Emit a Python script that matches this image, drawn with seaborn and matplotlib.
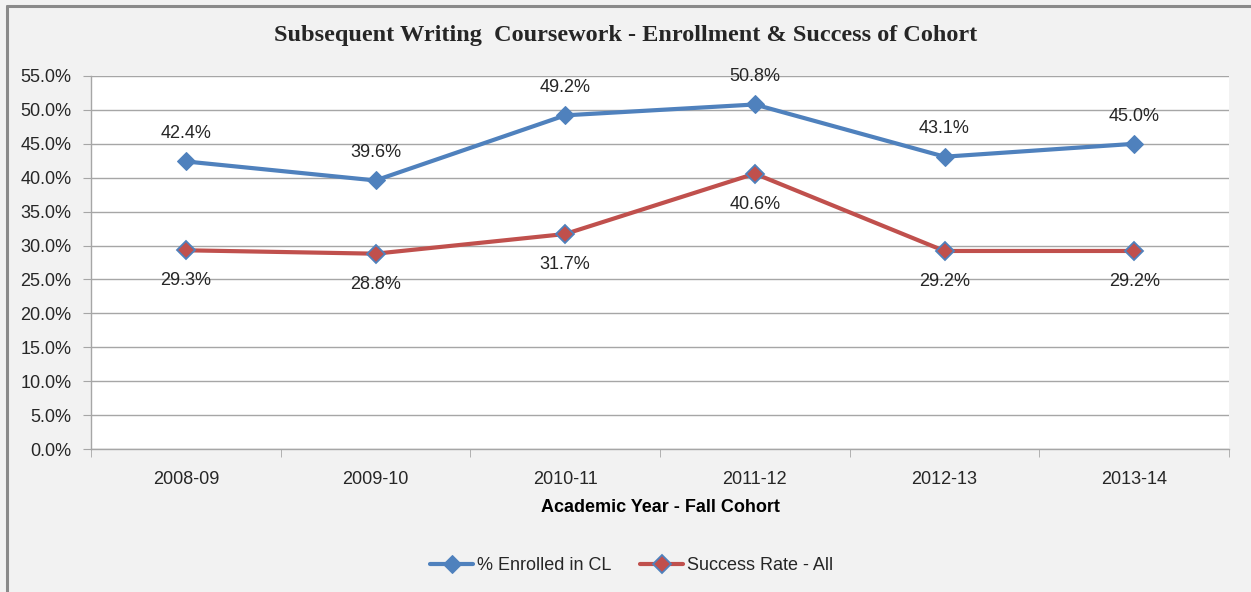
import matplotlib
matplotlib.use("Agg")
import matplotlib.pyplot as plt
import seaborn as sns
import pandas as pd
from matplotlib.ticker import FuncFormatter, FixedLocator
from matplotlib.lines import Line2D

years = ["2008-09", "2009-10", "2010-11", "2011-12", "2012-13", "2013-14"]
enrolled = [42.4, 39.6, 49.2, 50.8, 43.1, 45.0]
success = [29.3, 28.8, 31.7, 40.6, 29.2, 29.2]

blue = "#4f81bd"
red = "#c0504d"
bg = "#f2f2f2"
grid = "#a6a6a6"

sns.set_style("white")
plt.rcParams['font.family'] = ['Liberation Sans', 'DejaVu Sans']

fig = plt.figure(figsize=(12.51, 5.92), dpi=100, facecolor=bg)
ax = fig.add_axes([91 / 1251, 1 - 449 / 592, (1229 - 91) / 1251, (449 - 76) / 592])
ax.set_facecolor("white")

df = pd.DataFrame({"year": years, "enrolled": enrolled, "success": success})
x = list(range(len(years)))
df["x"] = x

sns.lineplot(data=df, x="x", y="enrolled", ax=ax, color=blue, linewidth=3,
             marker="D", markersize=9, markerfacecolor=blue, markeredgecolor=blue,
             label="% Enrolled in CL")
sns.lineplot(data=df, x="x", y="success", ax=ax, color=red, linewidth=3,
             marker="D", markersize=9, markerfacecolor=red, markeredgecolor=blue,
             markeredgewidth=1.3, label="Success Rate - All")

# data labels
for i, v in enumerate(enrolled):
    ax.annotate(f"{v:.1f}%", (i, v), xytext=(0, 20), textcoords="offset points",
                ha="center", va="center", fontsize=13, color="#262626")
for i, v in enumerate(success):
    ax.annotate(f"{v:.1f}%", (i, v), xytext=(0, -22), textcoords="offset points",
                ha="center", va="center", fontsize=13, color="#262626")

ax.set_xlim(-0.5, len(years) - 0.5)
ax.set_ylim(0, 55)
ax.set_yticks([i * 5 for i in range(12)])
ax.yaxis.set_major_formatter(FuncFormatter(lambda v, p: f"{v:.1f}%"))
ax.set_xticks(x)
ax.set_xticklabels(years)
ax.xaxis.set_minor_locator(FixedLocator([i - 0.5 for i in range(len(years) + 1)]))
ax.tick_params(axis="x", which="major", length=0, pad=16, labelsize=13, labelcolor="#262626")
ax.tick_params(axis="x", which="minor", length=6, color=grid, direction="out", bottom=True)
ax.tick_params(axis="y", length=6, color=grid, direction="out", labelsize=13,
               labelcolor="#262626", pad=8, left=True)

ax.grid(axis="y", color=grid, linewidth=1)
ax.set_axisbelow(True)
for side in ["top", "right"]:
    ax.spines[side].set_visible(False)
for side in ["left", "bottom"]:
    ax.spines[side].set_color(grid)
    ax.spines[side].set_linewidth(1)

ax.set_xlabel("Academic Year - Fall Cohort", fontsize=13, fontweight="bold",
              labelpad=8, color="black")
ax.set_ylabel("")

fig.text(0.5, 1 - 36 / 592, "Subsequent Writing  Coursework - Enrollment & Success of Cohort",
         ha="center", va="center", fontsize=17.5, fontweight="bold",
         family=["Liberation Serif", "DejaVu Serif"])

ax.legend(loc="center", bbox_to_anchor=(0.475, (449 - 566) / (449 - 76)), ncol=2,
          frameon=False, fontsize=13, handlelength=2.4, columnspacing=1.6,
          handletextpad=0.2)

# outer chart border (top and left visible)
fig.lines.append(Line2D([7 / 1251, 7 / 1251], [0, 1 - 6 / 592], transform=fig.transFigure,
                        color="#8a8a8a", linewidth=2.2))
fig.lines.append(Line2D([7 / 1251, 1], [1 - 6 / 592, 1 - 6 / 592], transform=fig.transFigure,
                        color="#8a8a8a", linewidth=2.2))

fig.savefig("out.png", dpi=100, facecolor=bg)
